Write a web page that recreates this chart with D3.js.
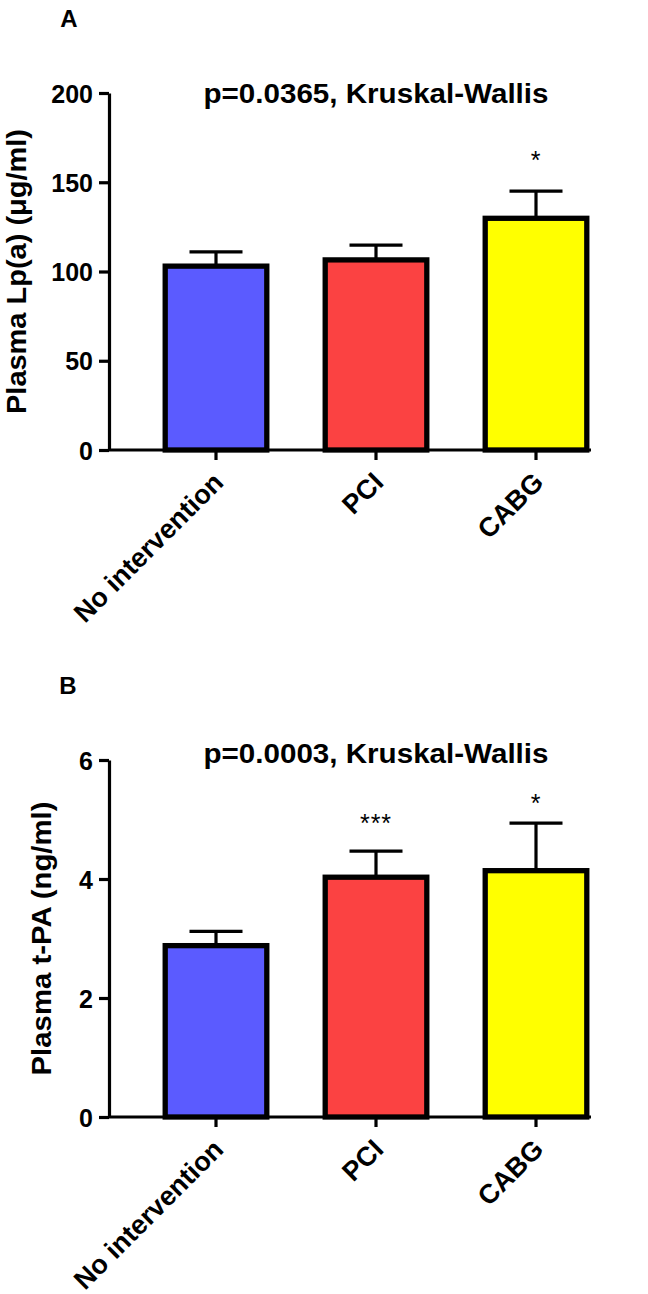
<!DOCTYPE html>
<html>
<head>
<meta charset="utf-8">
<script src="https://cdn.jsdelivr.net/npm/d3@7"></script>
<style>
  html, body { margin: 0; padding: 0; background: #fff; }
  text { font-family: "Liberation Sans", Arial, sans-serif; }
</style>
</head>
<body>
<div id="chart"></div>
<script>
// ---- Data ----
const categories = ["No intervention", "PCI", "CABG"];
const barColors = ["#5B5BFF", "#FB4242", "#FFFF00"];

const lpaMeans = [103, 106.5, 129.8];
const lpaSEM = [8, 8.3, 15.2];
const lpaStars = ["", "", "*"];
const lpaTicks = [0, 50, 100, 150, 200];
const lpaTitle = "p=0.0365, Kruskal-Wallis";
const lpaYLabel = "Plasma Lp(a) (\u03bcg/ml)";

const tpaMeans = [2.88, 4.03, 4.14];
const tpaSEM = [0.24, 0.44, 0.80];
const tpaStars = ["", "***", "*"];
const tpaTicks = [0, 2, 4, 6];
const tpaTitle = "p=0.0003, Kruskal-Wallis";
const tpaYLabel = "Plasma t-PA (ng/ml)";

// ---- Layout ----
const W = 648, H = 1294;
const svg = d3.select("#chart").append("svg")
  .attr("width", W).attr("height", H)
  .attr("viewBox", `0 0 ${W} ${H}`);

const axisX = 109;
const xRight = 591;

const x = d3.scaleBand().domain(categories)
  .range([136, 616]).paddingInner(0.365).paddingOuter(0.1825);

function panel(opts) {
  const g = svg.append("g");
  const y = d3.scaleLinear().domain([0, d3.max(opts.ticks)]).range([opts.bottom, opts.top]);

  // panel letter
  g.append("text").attr("x", opts.letterX).attr("y", opts.letterY)
    .attr("font-size", 24).attr("font-weight", "bold").attr("text-anchor", "middle")
    .text(opts.letter);

  // title
  g.append("text").attr("x", 376).attr("y", opts.titleY)
    .attr("font-size", 28).attr("font-weight", "bold").attr("text-anchor", "middle")
    .attr("textLength", 345).attr("lengthAdjust", "spacingAndGlyphs")
    .text(opts.title);

  // y label
  g.append("text")
    .attr("transform", `translate(${opts.yLabelX},${(opts.top + opts.bottom) / 2}) rotate(-90)`)
    .attr("font-size", 27).attr("font-weight", "bold").attr("text-anchor", "middle")
    .attr("textLength", opts.yLabelLen).attr("lengthAdjust", "spacingAndGlyphs")
    .text(opts.yLabel);

  const data = categories.map((c, i) => ({ c, m: opts.means[i], e: opts.sem[i], s: opts.stars[i], col: barColors[i] }));

  // error bars
  const eb = g.append("g").attr("stroke", "#000").attr("stroke-width", 3.2);
  eb.selectAll("line.v").data(data).join("line").attr("class", "v")
    .attr("x1", d => x(d.c) + x.bandwidth() / 2).attr("x2", d => x(d.c) + x.bandwidth() / 2)
    .attr("y1", d => y(d.m)).attr("y2", d => y(d.m + d.e));
  eb.selectAll("line.h").data(data).join("line").attr("class", "h")
    .attr("x1", d => x(d.c) + x.bandwidth() / 2 - 26.5).attr("x2", d => x(d.c) + x.bandwidth() / 2 + 26.5)
    .attr("y1", d => y(d.m + d.e)).attr("y2", d => y(d.m + d.e));

  // bars
  g.selectAll("rect.bar").data(data).join("rect").attr("class", "bar")
    .attr("x", d => x(d.c)).attr("width", x.bandwidth())
    .attr("y", d => y(d.m)).attr("height", d => y(0) - y(d.m))
    .attr("fill", d => d.col).attr("stroke", "#000").attr("stroke-width", 5.3);

  // stars
  g.selectAll("text.star").data(data.filter(d => d.s)).join("text").attr("class", "star")
    .attr("x", d => x(d.c) + x.bandwidth() / 2)
    .attr("y", d => y(d.m + d.e) - opts.starOffset(d))
    .attr("font-size", 25).attr("text-anchor", "middle")
    .attr("letter-spacing", 1)
    .text(d => d.s);

  // y axis
  const ya = g.append("g").attr("transform", `translate(${axisX},0)`)
    .call(d3.axisLeft(y).tickValues(opts.ticks).tickFormat(d3.format("d"))
      .tickSize(10).tickSizeOuter(0).tickPadding(6));
  ya.select(".domain").attr("stroke-width", 3.2);
  ya.selectAll(".tick line").attr("stroke-width", 3.2);
  ya.selectAll(".tick text").attr("font-size", 25).attr("font-weight", "bold")
    .attr("font-family", "Liberation Sans, Arial, sans-serif").attr("fill", "#000").attr("dy", "0.36em");

  // x axis
  const xa = g.append("g").attr("transform", `translate(0,${opts.bottom})`)
    .call(d3.axisBottom(x).tickSize(10).tickSizeOuter(0));
  xa.select(".domain").remove();
  xa.insert("line", ":first-child").attr("x1", axisX).attr("x2", xRight)
    .attr("y1", 0).attr("y2", 0).attr("stroke", "#000").attr("stroke-width", 3.2);
  xa.selectAll(".tick line").attr("stroke-width", 3.2);
  xa.selectAll(".tick text")
    .attr("x", 0).attr("y", 0).attr("dy", 0)
    .attr("transform", "translate(9,34) rotate(-45)")
    .attr("text-anchor", "end")
    .attr("font-size", 27).attr("font-weight", "bold")
    .attr("font-family", "Liberation Sans, Arial, sans-serif").attr("fill", "#000");
}

panel({
  top: 93, bottom: 450, ticks: lpaTicks, means: lpaMeans, sem: lpaSEM, stars: lpaStars,
  title: lpaTitle, titleY: 103, yLabel: lpaYLabel, yLabelX: 26, yLabelLen: 285,
  letter: "A", letterX: 69, letterY: 27,
  starOffset: d => 22
});

panel({
  top: 760, bottom: 1117, ticks: tpaTicks, means: tpaMeans, sem: tpaSEM, stars: tpaStars,
  title: tpaTitle, titleY: 763, yLabel: tpaYLabel, yLabelX: 51, yLabelLen: 274,
  letter: "B", letterX: 68, letterY: 694,
  starOffset: d => d.s.length > 1 ? 19 : 11
});
</script>
</body>
</html>
